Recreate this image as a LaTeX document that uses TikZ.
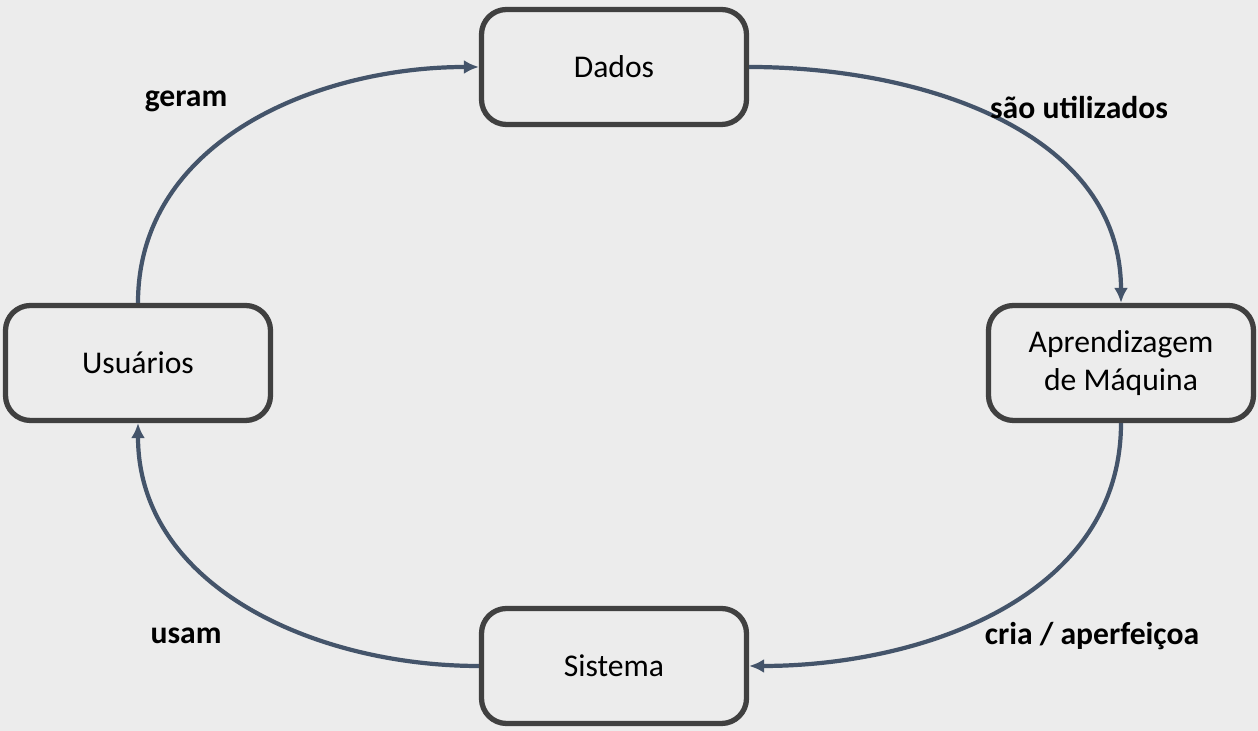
\documentclass[tikz,border=0pt]{standalone}
\usepackage{fontspec}
\setmainfont{Carlito}
\usetikzlibrary{arrows.meta}

\definecolor{bgcol}{HTML}{ECECEC}
\definecolor{boxcol}{HTML}{404040}
\definecolor{arrcol}{HTML}{44546A}

\tikzset{
	etapa/.style={draw=boxcol,line width=3pt,rounded corners=0.5cm,fill=bgcol,
		minimum width=5.30cm,minimum height=2.30cm,align=center,font=\fontsize{18}{22}\selectfont},
	fluxo/.style={draw=arrcol,line width=2.4pt,-{Latex[length=3mm,width=2.8mm]}},
	rotulo/.style={font=\bfseries\fontsize{18}{22}\selectfont}
}

\begin{document}
\begin{tikzpicture}
	\fill[bgcol] (0,0) rectangle (25.16,14.62);
	\node[etapa] (dados) at (12.28,13.28) {Dados};
	\node[etapa] (usuarios) at (2.76,7.36) {Usuários};
	\node[etapa] (ml) at (22.42,7.36) {Aprendizagem\\de Máquina};
	\node[etapa] (sistema) at (12.28,1.30) {Sistema};
	% ciclo
	\draw[fluxo] (usuarios.north) to[out=90,in=180] (dados.west);
	\draw[fluxo] (dados.east) to[out=0,in=90] (ml.north);
	\draw[fluxo] (ml.south) to[out=-90,in=0] (sistema.east);
	\draw[fluxo] (sistema.west) to[out=180,in=-90] (usuarios.south);
	\node[rotulo] (geram) at (3.72,12.60) {geram};
	\node[rotulo] (utilizados) at (21.58,12.46) {são utilizados};
	\node[rotulo] (usam) at (3.72,1.90) {usam};
	\node[rotulo] (cria) at (21.84,1.90) {cria / aperfeiçoa};
\end{tikzpicture}
\end{document}
